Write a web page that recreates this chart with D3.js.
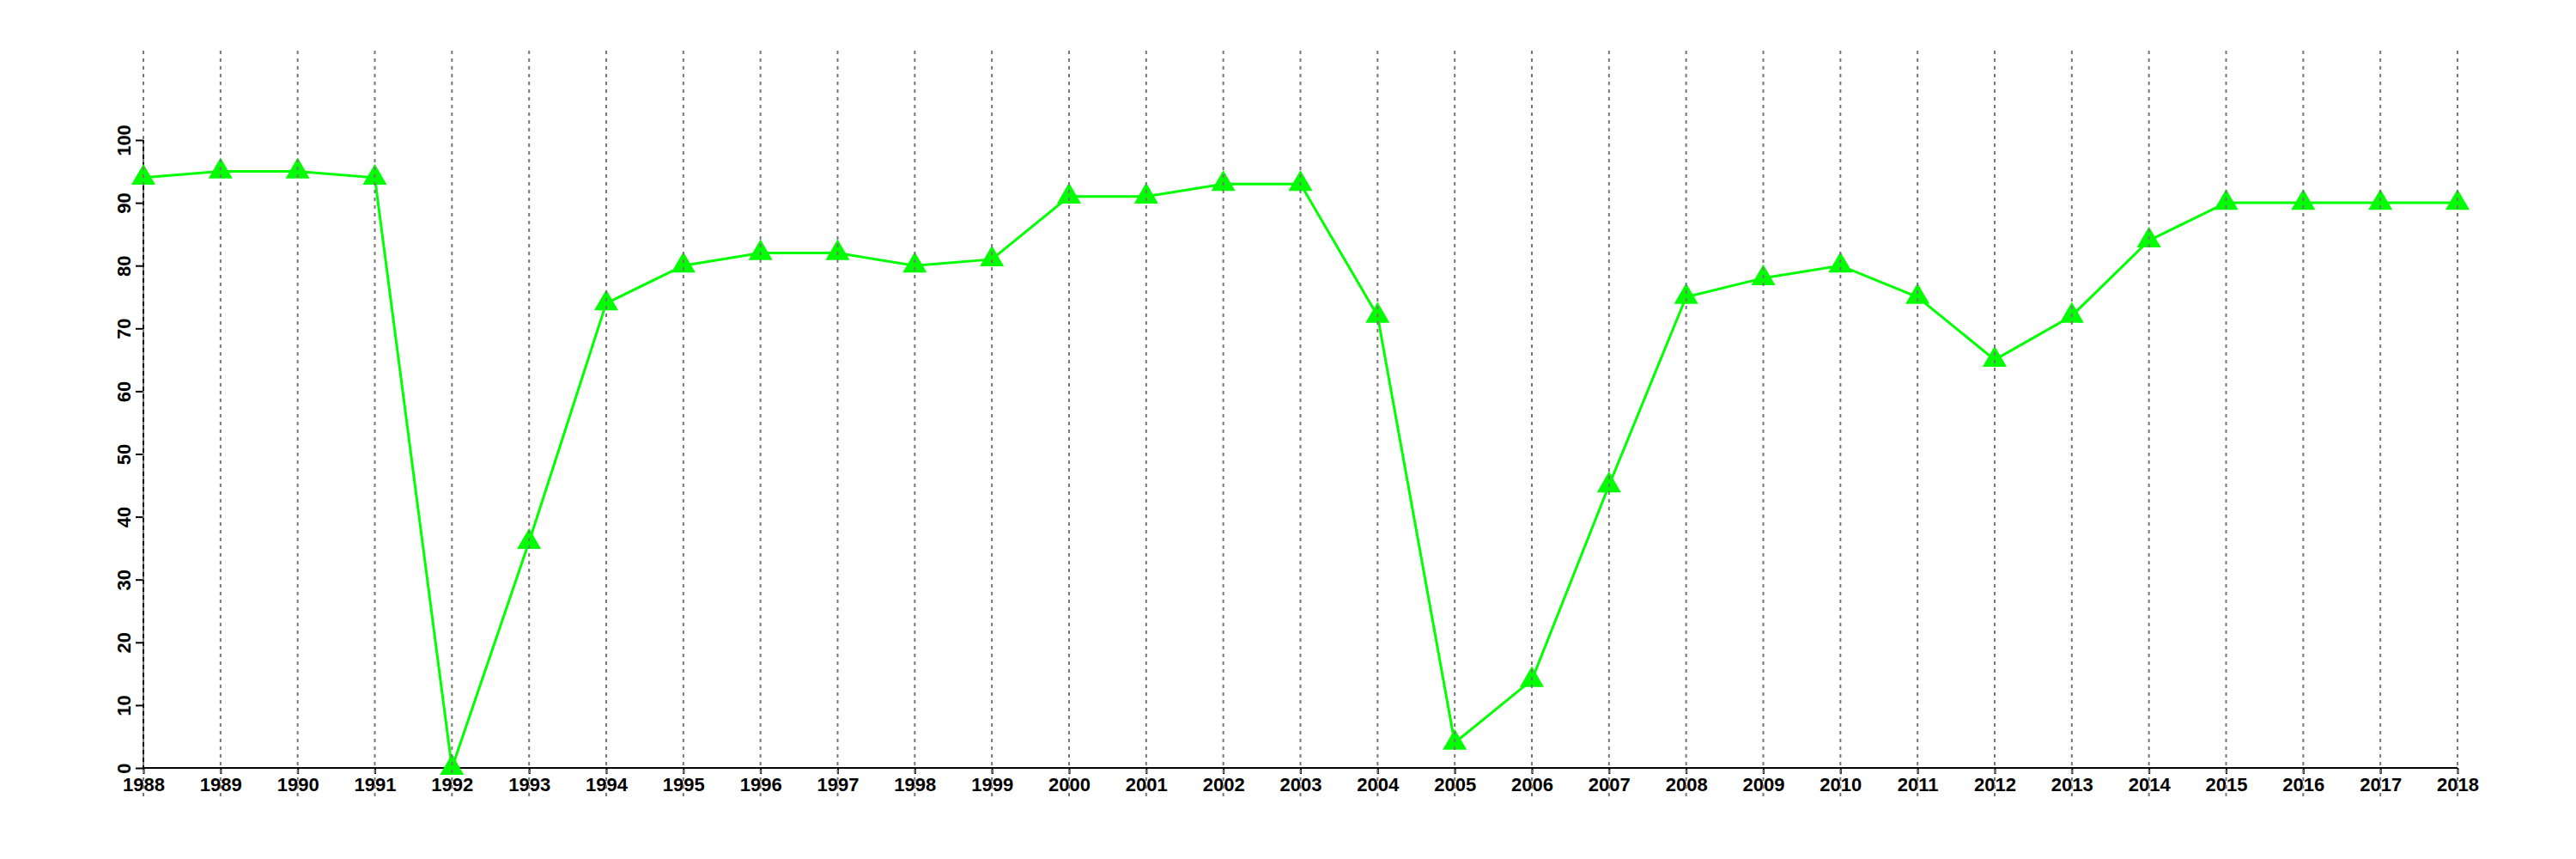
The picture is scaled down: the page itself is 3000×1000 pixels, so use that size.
<!DOCTYPE html>
<html>
<head>
<meta charset="utf-8">
<script src="https://cdn.jsdelivr.net/npm/d3@7"></script>
<style>
  html, body { margin: 0; padding: 0; background: #fff; }
  svg text { font-family: "Liberation Sans", Arial, Helvetica, sans-serif; font-weight: bold; }
</style>
</head>
<body>
<svg id="chart" width="3000" height="1000"></svg>
<script>
const years = [1988,1989,1990,1991,1992,1993,1994,1995,1996,1997,1998,1999,2000,2001,2002,2003,2004,2005,2006,2007,2008,2009,2010,2011,2012,2013,2014,2015,2016,2017,2018];
const values = [94,95,95,94,0,36,74,80,82,82,80,81,91,91,93,93,72,4,14,45,75,78,80,75,65,72,84,90,90,90,90];
const yTicks = [0,10,20,30,40,50,60,70,80,90,100];

const svg = d3.select("#chart");
const x = d3.scaleLinear().domain([1988, 2018]).range([167, 2862]);
const y = d3.scaleLinear().domain([0, 100]).range([894, 163]);

// x axis
const xAxis = svg.append("g").attr("transform", "translate(0,894)")
  .call(d3.axisBottom(x).tickValues(years).tickFormat(d3.format("d")).tickSize(7).tickPadding(4));
xAxis.select(".domain").attr("stroke", "#000").attr("stroke-width", 2)
  .attr("d", `M${x(1988)},0H${x(2018)}`);
xAxis.selectAll(".tick line").attr("stroke", "#000").attr("stroke-width", 2);
xAxis.selectAll(".tick text").attr("font-size", 22).attr("fill", "#000")
  .attr("y", 27).attr("dy", 0);

// y axis
const yAxis = svg.append("g").attr("transform", "translate(167,0)")
  .call(d3.axisLeft(y).tickValues(yTicks).tickSize(9));
yAxis.select(".domain").attr("stroke", "#000").attr("stroke-width", 2)
  .attr("d", `M0,${y(0)}V${y(100)}`);
yAxis.selectAll(".tick line").attr("stroke", "#000").attr("stroke-width", 2);
yAxis.selectAll(".tick text").attr("font-size", 22).attr("fill", "#000")
  .attr("x", null).attr("dy", null)
  .attr("text-anchor", "middle")
  .attr("transform", "translate(-15,0) rotate(-90)");

// line
const line = d3.line().x((d, i) => x(years[i])).y(d => y(d));
svg.append("path").datum(values)
  .attr("fill", "none").attr("stroke", "#00ff00").attr("stroke-width", 3)
  .attr("d", line);

// markers
svg.append("g").selectAll("path").data(values).join("path")
  .attr("transform", (d, i) => `translate(${x(years[i])},${y(d)})`)
  .attr("d", d3.symbol().type(d3.symbolTriangle).size(340))
  .attr("fill", "#00ff00");

// grid lines (drawn on top)
svg.append("g").selectAll("line").data(years).join("line")
  .attr("x1", d => x(d)).attr("x2", d => x(d))
  .attr("y1", 59).attr("y2", 928)
  .attr("stroke", "#777").attr("stroke-width", 2)
  .attr("stroke-dasharray", "4,5");
</script>
</body>
</html>
